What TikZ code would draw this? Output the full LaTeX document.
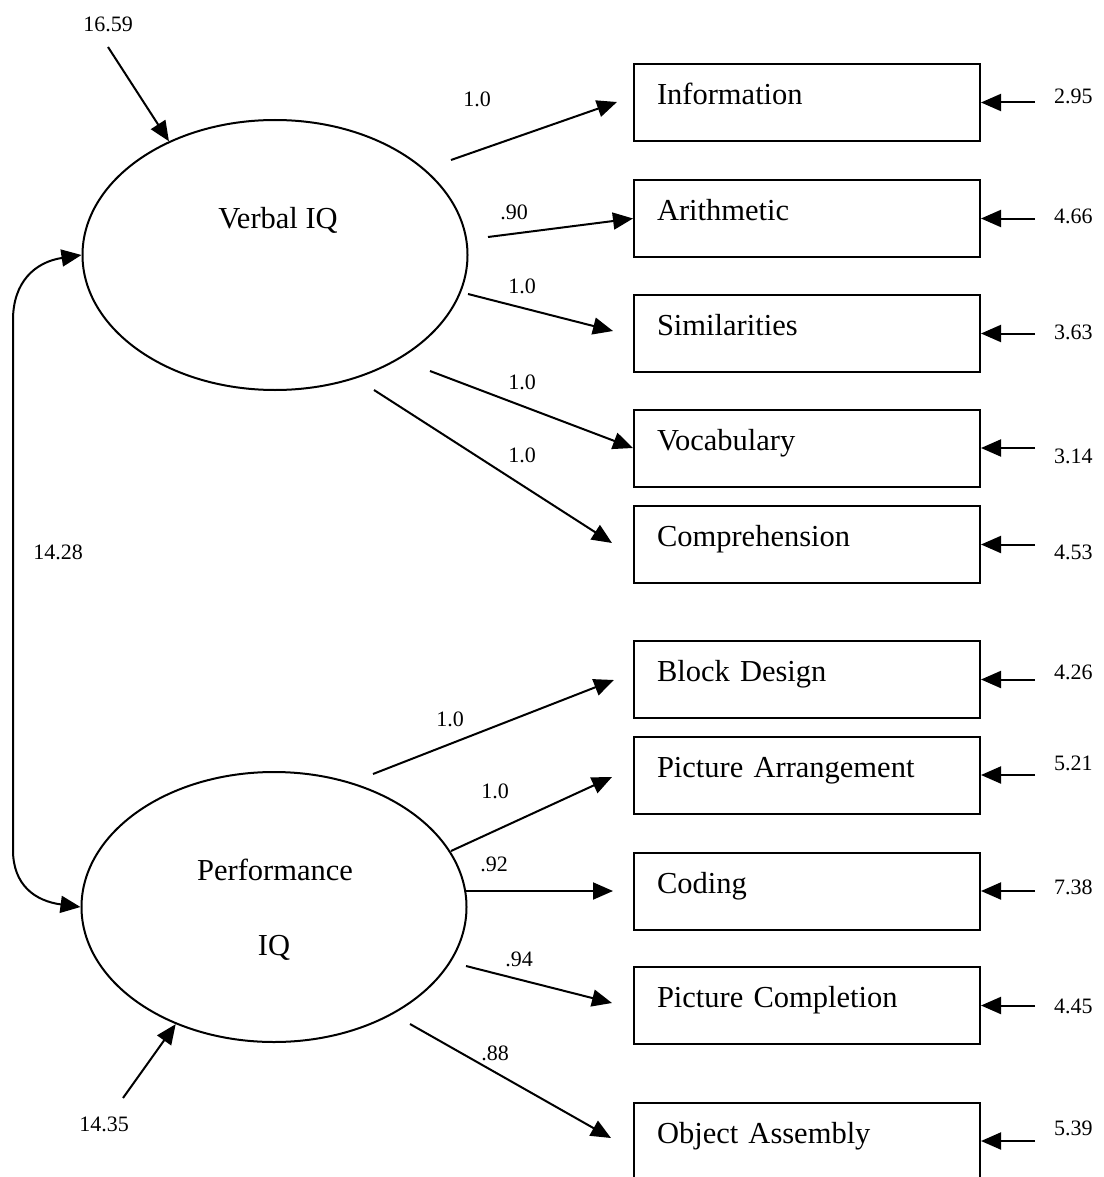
\documentclass[tikz,border=0pt]{standalone}
\usepackage{fontspec}
\setmainfont{Liberation Serif}
\usetikzlibrary{arrows.meta,shapes.geometric}
\begin{document}
\begin{tikzpicture}[x=1pt,y=-1pt,
  tip/.style={-{Triangle[length=20pt,width=17pt]}},
  conn/.style={line width=2pt, tip},
  dconn/.style={line width=2pt, {Triangle[length=20pt,width=17pt]}-{Triangle[length=20pt,width=17pt]}},
  box/.style={draw, line width=2pt, rectangle, minimum height=77pt, text width=300pt,
    inner xsep=23pt, inner ysep=0pt, align=left, font=\fontsize{30.5}{36}\selectfont,
    text height=20pt, text depth=16pt},
  latent/.style={draw, line width=2pt, ellipse, minimum width=385pt, minimum height=270pt, inner sep=0pt},
  ltext/.style={font=\fontsize{30.5}{36}\selectfont, inner sep=0pt},
  num/.style={font=\fontsize{22}{26}\selectfont, inner sep=0pt}
]
\useasboundingbox (0,0) rectangle (1103,1177);
\fill[white] (0,0) rectangle (1103,1177);

% latent variables
\node[latent] (V) at (275,255) {};
\node[latent] (P) at (274,907) {};
\node[ltext, anchor=base] (vt) at (278,228) {Verbal IQ};
\node[ltext, anchor=base] (pt1) at (275,880) {Performance};
\node[ltext, anchor=base] (pt2) at (274,955) {IQ};

% indicator boxes
\node[box] (B1) at (807,102.5) {Information};
\node[box] (B2) at (807,218.5) {Arithmetic};
\node[box] (B3) at (807,333.5) {Similarities};
\node[box] (B4) at (807,448) {Vocabulary};
\node[box] (B5) at (807,544.5) {Comprehension};
\node[box] (B6) at (807,679.5) {Block Design};
\node[box] (B7) at (807,775) {Picture Arrangement};
\node[box] (B8) at (807,891) {Coding};
\node[box] (B9) at (807,1005.5) {Picture Completion};
\node[box] (B10) at (807,1141) {Object Assembly};

% loading connectors
\coordinate (s1) at (451,160);  \coordinate (t1) at (617,102);
\coordinate (s2) at (488,237);
\coordinate (s3) at (468,294);  \coordinate (t3) at (613,331);
\coordinate (s4) at (430,371);
\coordinate (s5) at (374,390);  \coordinate (t5) at (612,543);
\coordinate (s6) at (373,774);  \coordinate (t6) at (614,680);
\coordinate (s7) at (451,851);  \coordinate (t7) at (612,777);
\coordinate (s8) at (466,891);  \coordinate (t8) at (613,891);
\coordinate (s9) at (466,966);  \coordinate (t9) at (612,1003);
\coordinate (s10) at (410,1024); \coordinate (t10) at (611,1138);

\draw[conn] (s1) -- (t1);
\draw[conn] (s2) -- (B2.west);
\draw[conn] (s3) -- (t3);
\draw[conn] (s4) -- (B4.west);
\draw[conn] (s5) -- (t5);
\draw[conn] (s6) -- (t6);
\draw[conn] (s7) -- (t7);
\draw[conn] (s8) -- (t8);
\draw[conn] (s9) -- (t9);
\draw[conn] (s10) -- (t10);

% loading labels
\node[num] (l1) at (477,99) {1.0};
\node[num] (l2) at (514,212) {.90};
\node[num] (l3) at (522,286) {1.0};
\node[num] (l4) at (522,382) {1.0};
\node[num] (l5) at (522,455) {1.0};
\node[num] (l6) at (450,719) {1.0};
\node[num] (l7) at (495,791) {1.0};
\node[num] (l8) at (494,864) {.92};
\node[num] (l9) at (519,959) {.94};
\node[num] (l10) at (495,1053) {.88};

% error arrows on indicators
\foreach \i/\y/\ly/\v in {1/102.5/96/2.95, 2/218.5/216/4.66, 3/333.5/332/3.63, 4/448/456/3.14,
    5/544.5/552/4.53, 6/679.5/672/4.26, 7/775/763/5.21, 8/891/887/7.38, 9/1005.5/1006/4.45, 10/1141/1128/5.39}{
  \coordinate (e\i) at (1035,\y);
  \draw[conn] (e\i) -- (B\i.east);
  \node[num, anchor=west] (n\i) at (1054,\ly) {\v};
}

% disturbances on latent variables
\coordinate (d1) at (108,47);
\draw[conn] (d1) -- (V.133);
\node[num] (dl1) at (108,24) {16.59};
\coordinate (d2) at (123,1098);
\draw[conn] (d2) -- (P.230);
\node[num] (dl2) at (104,1124) {14.35};

% covariance
\coordinate (c1) at (13,320);
\coordinate (c2) at (13,850);
\draw[dconn] (V.west) .. controls (35,262) and (13,282) .. (c1) -- (c2) .. controls (13,885) and (35,901) .. (P.west);
\node[num] (cl) at (58,552) {14.28};
\end{tikzpicture}
\end{document}
